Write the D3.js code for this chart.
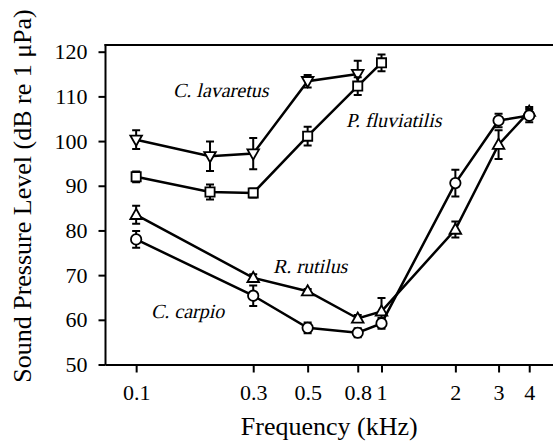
<!DOCTYPE html>
<html>
<head>
<meta charset="utf-8">
<script src="https://cdn.jsdelivr.net/npm/d3@7"></script>
<style>
  body { margin: 0; background: #fff; }
  svg { display: block; font-family: "Liberation Serif", "Times New Roman", serif; }
  .axis path, .axis line { stroke: #000; stroke-width: 2; }
  .axis text { font-size: 22px; fill: #000; font-family: "Liberation Serif", serif; }
  .series { fill: none; stroke: #000; stroke-width: 2.5; }
  .err { stroke: #000; stroke-width: 2; fill: none; }
  .marker { fill: #fff; stroke: #000; stroke-width: 1.8; }
  .species { font-family: "Liberation Serif", serif; font-size: 20px; }
  .title { font-size: 26px; }
</style>
</head>
<body>
<div id="chart"></div>
<script>
var X_TICKS = [0.1, 0.3, 0.5, 0.8, 1, 2, 3, 4];
var X_TICK_LABELS = ["0.1", "0.3", "0.5", "0.8", "1", "2", "3", "4"];
var Y_TICKS = [50, 60, 70, 80, 90, 100, 110, 120];

// C. lavaretus (down triangle)
var lavFreq = [0.1, 0.2, 0.3, 0.5, 0.8];
var lavSpl  = [100.3, 96.6, 97.2, 113.4, 115.0];
var lavErr  = [2.1, 3.3, 3.5, 1.4, 3.0];

// P. fluviatilis (square)
var fluFreq = [0.1, 0.2, 0.3, 0.5, 0.8, 1];
var fluSpl  = [92.0, 88.6, 88.4, 101.1, 112.3, 117.5];
var fluErr  = [1.2, 1.7, 1.0, 2.1, 2.0, 1.9];

// R. rutilus (up triangle)
var rutFreq = [0.1, 0.3, 0.5, 0.8, 1, 2, 3, 4];
var rutSpl  = [83.5, 69.4, 66.4, 60.3, 61.9, 80.2, 99.2, 106.6];
var rutErr  = [2.0, 0.8, 0.5, 0.8, 3.0, 1.8, 3.2, 1.0];

// C. carpio (circle)
var carFreq = [0.1, 0.3, 0.5, 0.8, 1, 2, 3, 4];
var carSpl  = [78.0, 65.4, 58.2, 57.1, 59.2, 90.6, 104.6, 105.7];
var carErr  = [1.9, 2.3, 1.2, 1.0, 1.2, 3.0, 1.5, 1.5];

var W = 553, H = 446;
var plotLeft = 105.5, plotRight = 553, plotTop = 45, plotBottom = 364.5;

var x = d3.scaleLog().domain([0.075, 5]).range([plotLeft, plotRight]);
var y = d3.scaleLinear().domain([50, 121.5]).range([plotBottom, plotTop]);

var svg = d3.select("#chart").append("svg")
    .attr("width", W)
    .attr("height", H);

function zip(freq, spl, err) {
    return freq.map(function(f, i) { return { f: f, v: spl[i], e: err[i] }; });
}

var series = [
    { name: "lav", shape: "down", data: zip(lavFreq, lavSpl, lavErr) },
    { name: "flu", shape: "square", data: zip(fluFreq, fluSpl, fluErr) },
    { name: "rut", shape: "up", data: zip(rutFreq, rutSpl, rutErr) },
    { name: "car", shape: "circle", data: zip(carFreq, carSpl, carErr) }
];

// frame: top border + axes
svg.append("line")
    .attr("x1", plotLeft - 1).attr("x2", plotRight)
    .attr("y1", plotTop).attr("y2", plotTop)
    .attr("stroke", "#000").attr("stroke-width", 2);

svg.append("g")
    .attr("class", "axis")
    .attr("transform", "translate(0," + plotBottom + ")")
    .call(d3.axisBottom(x).tickValues(X_TICKS)
        .tickFormat(function(d, i) { return X_TICK_LABELS[i]; })
        .tickSize(8).tickSizeOuter(0).tickPadding(12));

var yAxis = svg.append("g")
    .attr("class", "axis")
    .attr("transform", "translate(" + plotLeft + ",0)")
    .call(d3.axisLeft(y).tickValues(Y_TICKS)
        .tickSize(7).tickSizeOuter(0).tickPadding(11));
yAxis.select(".domain").attr("d", "M0," + (plotBottom + 1) + "V" + (plotTop - 1));

var line = d3.line()
    .x(function(d) { return x(d.f); })
    .y(function(d) { return y(d.v); });

var g = svg.selectAll(".sp").data(series).enter().append("g").attr("class", "sp");

g.append("path")
    .attr("class", "series")
    .attr("d", function(s) { return line(s.data); });

// error bars
var CAP = 4;
g.selectAll(".err").data(function(s) { return s.data; }).enter().append("path")
    .attr("class", "err")
    .attr("d", function(d) {
        var cx = x(d.f), y0 = y(d.v - d.e), y1 = y(d.v + d.e);
        return "M" + (cx - CAP) + "," + y1 + "H" + (cx + CAP) +
               "M" + cx + "," + y1 + "V" + y0 +
               "M" + (cx - CAP) + "," + y0 + "H" + (cx + CAP);
    });

// markers
function markerPath(shape) {
    if (shape === "circle") return "M5.2,0A5.2,5.2 0 1,1 -5.2,0A5.2,5.2 0 1,1 5.2,0Z";
    if (shape === "square") return "M-4.6,-4.6H4.6V4.6H-4.6Z";
    if (shape === "up") return "M0,-6L5.8,4.2H-5.8Z";
    return "M0,6L5.8,-4.2H-5.8Z";
}

g.each(function(s) {
    d3.select(this).selectAll(".marker").data(s.data).enter().append("path")
        .attr("class", "marker")
        .attr("d", markerPath(s.shape))
        .attr("transform", function(d) { return "translate(" + x(d.f) + "," + y(d.v) + ")"; });
});

// species labels (serif italic faked with a skew, the italic face falls back to sans)
var labels = [
    { t: "C. lavaretus", x: 173, y: 97 },
    { t: "P. fluviatilis", x: 346, y: 127 },
    { t: "R. rutilus", x: 273, y: 273 },
    { t: "C. carpio", x: 151, y: 318 }
];
svg.selectAll(".species").data(labels).enter().append("text")
    .attr("class", "species")
    .attr("transform", function(d) { return "translate(" + d.x + "," + d.y + ") skewX(-13)"; })
    .text(function(d) { return d.t; });

// axis titles
svg.append("text")
    .attr("class", "title")
    .attr("x", (plotLeft + plotRight) / 2)
    .attr("y", 435)
    .attr("text-anchor", "middle")
    .text("Frequency (kHz)");

svg.append("text")
    .attr("class", "title")
    .attr("transform", "translate(31," + 196 + ") rotate(-90)")
    .attr("text-anchor", "middle")
    .text("Sound Pressure Level (dB re 1 \u03bcPa)");
</script>
</body>
</html>
